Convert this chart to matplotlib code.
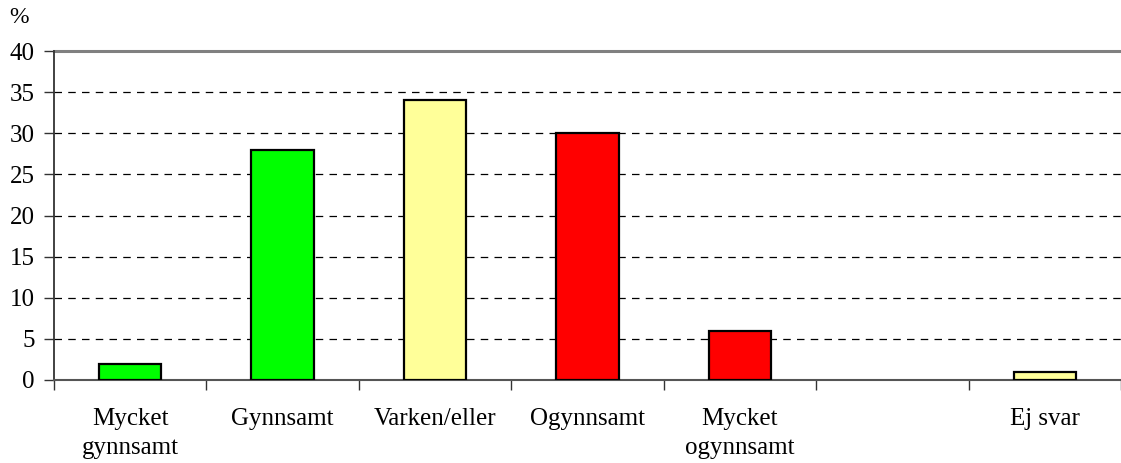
import matplotlib
matplotlib.use("Agg")
import matplotlib.pyplot as plt

categories = ["Mycket\ngynnsamt", "Gynnsamt", "Varken/eller", "Ogynnsamt",
              "Mycket\nogynnsamt", "", "Ej svar"]
values = [2, 28, 34, 30, 6, None, 1]
colors = ["#00FF00", "#00FF00", "#FFFF99", "#FF0000", "#FF0000", "#FFFFFF", "#FFFF99"]
yticks = [0, 5, 10, 15, 20, 25, 30, 35, 40]

plt.rcParams['font.family'] = ['Liberation Serif', 'DejaVu Serif']

fig = plt.figure(figsize=(11.21, 4.63), dpi=100)
ax = fig.add_axes([54/1121, (463-380)/463, 1 - 54/1121, (380-51)/463])

xs = [i for i, v in enumerate(values) if v is not None]
vs = [v for v in values if v is not None]
cs = [colors[i] for i in xs]
ax.bar(xs, vs, width=0.41, color=cs, edgecolor="black", linewidth=1.6, zorder=3)

ax.set_ylim(0, 40)
ax.set_xlim(-0.5, -0.5 + 1067/153.6)
ax.set_yticks(yticks)
ax.set_yticklabels([str(t) for t in yticks], fontsize=18)

for t in yticks[1:-1]:
    ax.axhline(t, color="black", linewidth=0.9, linestyle=(0, (6, 5)), zorder=1)
ax.axhline(40, color="#808080", linewidth=2.2, zorder=2, clip_on=False)

ax.set_xticks([i + 0.5 for i in range(-1, 7)])
ax.set_xticklabels([])
ax.set_xticks(range(7), minor=True)
ax.set_xticklabels(categories, minor=True, fontsize=18, linespacing=1.4, va="top")
ax.tick_params(axis="x", which="minor", length=0, pad=20)
ax.tick_params(axis="x", which="major", length=7, width=1, color="#333333", direction="out")
ax.tick_params(axis="y", length=7, width=1, color="#333333", pad=7)

for s in ["top", "right"]:
    ax.spines[s].set_visible(False)
ax.spines["left"].set_color("#333333")
ax.spines["left"].set_linewidth(1.3)
ax.spines["bottom"].set_color("#555555")
ax.spines["bottom"].set_linewidth(1.5)

fig.text(9/1121, 1 - 23/463, "%", fontsize=17, ha="left", va="baseline")

fig.savefig("out.png", dpi=100)
